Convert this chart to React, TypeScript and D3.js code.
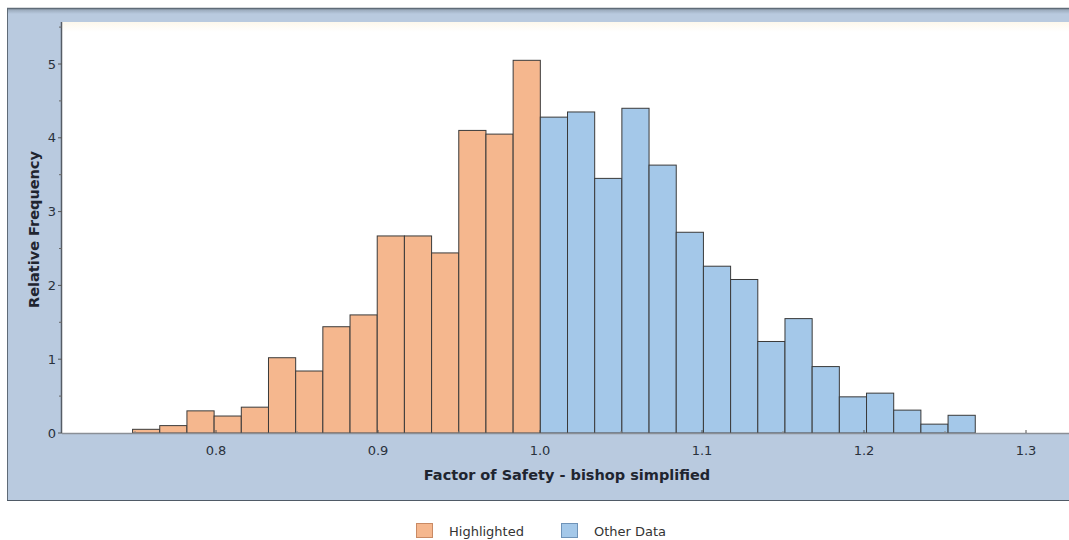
import { scaleLinear } from "d3";

// histogram bins (relative frequency), bin edges start at binStart and step by binWidth
const binStart = 0.7485;
const binWidth = 0.01678;
const highlighted = [0.05, 0.1, 0.3, 0.23, 0.35, 1.02, 0.84, 1.44, 1.6, 2.67, 2.67, 2.44, 4.1, 4.05, 5.05];
const otherData = [4.28, 4.35, 3.45, 4.4, 3.63, 2.72, 2.26, 2.08, 1.24, 1.55, 0.9, 0.49, 0.54, 0.31, 0.12, 0.24];

const xMajor = [0.8, 0.9, 1.0, 1.1, 1.2, 1.3];
const xMinor = [0.75, 0.85, 0.95, 1.05, 1.15, 1.25];
const yMajor = [0, 1, 2, 3, 4, 5];
const yMinor = [0.5, 1.5, 2.5, 3.5, 4.5, 5.5];

const xTitle = "Factor of Safety - bishop simplified";
const yTitle = "Relative Frequency";
const legendItems = ["Highlighted", "Other Data"];

const W = 1069;
const H = 540;
const plotLeft = 62;
const plotTop = 22;
const plotBottom = 433;

const orange = "#f5b78e";
const blue = "#a4c8e9";
const panel = "#b9cadf";
const font = "'DejaVu Sans', Verdana, sans-serif";

const x = scaleLinear().domain([0.8, 1.3]).range([216, 1026]);
const y = scaleLinear().domain([0, 5]).range([plotBottom, 64]);

export default function App() {
  const bins = [
    ...highlighted.map((v, i) => ({ v, i, color: orange })),
    ...otherData.map((v, i) => ({ v, i: i + highlighted.length, color: blue })),
  ];
  return (
    <svg
      width={W}
      height={H}
      style={{ position: "absolute", left: 0, top: 0, background: "#fff" }}
      fontFamily={font}
    >
      <defs>
        <linearGradient id="topShade" x1="0" y1="0" x2="0" y2="1">
          <stop offset="0" stopColor="#8d9cad" />
          <stop offset="1" stopColor={panel} />
        </linearGradient>
        <linearGradient id="plotShade" x1="0" y1="0" x2="0" y2="1">
          <stop offset="0" stopColor="#fdf8ec" />
          <stop offset="1" stopColor="#ffffff" />
        </linearGradient>
        <clipPath id="clip">
          <rect x={plotLeft} y={plotTop} width={W - plotLeft} height={plotBottom - plotTop} />
        </clipPath>
      </defs>

      {/* outer panel */}
      <rect x={7} y={8} width={W} height={492} fill={panel} />
      <rect x={7} y={8} width={W} height={6} fill="url(#topShade)" />
      <line x1={7} x2={W} y1={8.5} y2={8.5} stroke="#5f6b77" strokeWidth={1.5} />
      <line x1={7.5} x2={7.5} y1={8} y2={500} stroke="#5f6b77" />
      <line x1={7} x2={W} y1={500.5} y2={500.5} stroke="#4f5a66" />

      {/* plot area */}
      <rect x={plotLeft} y={plotTop} width={W - plotLeft} height={plotBottom - plotTop} fill="#fff" />
      <rect x={plotLeft} y={plotTop} width={W - plotLeft} height={10} fill="url(#plotShade)" />

      <g clipPath="url(#clip)">
        {bins.map((b) => (
          <rect
            key={b.i}
            x={x(binStart + b.i * binWidth)}
            y={y(b.v)}
            width={x(binStart + (b.i + 1) * binWidth) - x(binStart + b.i * binWidth)}
            height={y(0) - y(b.v)}
            fill={b.color}
            stroke="#3a3a3a"
            strokeWidth={1}
          />
        ))}
      </g>

      {/* x axis */}
      <line x1={plotLeft} x2={W} y1={plotBottom + 0.5} y2={plotBottom + 0.5} stroke="#8a8f96" strokeWidth={1.5} />
      {xMajor.map((t) => (
        <g key={t}>
          <line x1={x(t)} x2={x(t)} y1={plotBottom - 3} y2={plotBottom} stroke="#555" />
          <text x={x(t)} y={455} textAnchor="middle" fontSize={13} fill="#29313c">
            {t.toFixed(1)}
          </text>
        </g>
      ))}
      {xMinor.map((t) => (
        <line key={t} x1={x(t)} x2={x(t)} y1={plotBottom - 2} y2={plotBottom} stroke="#888" />
      ))}
      <text x={567} y={480} textAnchor="middle" fontSize={14.5} fontWeight="bold" fill="#1f2530">
        {xTitle}
      </text>

      {/* y axis */}
      <line x1={plotLeft - 0.5} x2={plotLeft - 0.5} y1={plotTop} y2={plotBottom} stroke="#555c66" strokeWidth={1.5} />
      {yMajor.map((t) => (
        <g key={t}>
          <line x1={plotLeft - 4} x2={plotLeft} y1={y(t)} y2={y(t)} stroke="#555" />
          <text x={plotLeft - 6} y={y(t)} dy="0.36em" textAnchor="end" fontSize={13} fill="#29313c">
            {t}
          </text>
        </g>
      ))}
      {yMinor.map((t) => (
        <line key={t} x1={plotLeft - 3} x2={plotLeft} y1={y(t)} y2={y(t)} stroke="#666" />
      ))}
      <text
        transform={`translate(39,${(plotTop + plotBottom) / 2 + 2}) rotate(-90)`}
        textAnchor="middle"
        fontSize={14.5}
        fontWeight="bold"
        fill="#1f2530"
      >
        {yTitle}
      </text>

      {/* legend */}
      {legendItems.map((name, i) => {
        const lx = [416, 561][i];
        return (
          <g key={name}>
            <rect
              x={lx + 0.5}
              y={523.5}
              width={16}
              height={14}
              fill={i === 0 ? orange : blue}
              stroke={i === 0 ? "#c98a64" : "#6f93b8"}
            />
            <text x={lx + 33} y={536} fontSize={13} fill="#333">
              {name}
            </text>
          </g>
        );
      })}
    </svg>
  );
}
